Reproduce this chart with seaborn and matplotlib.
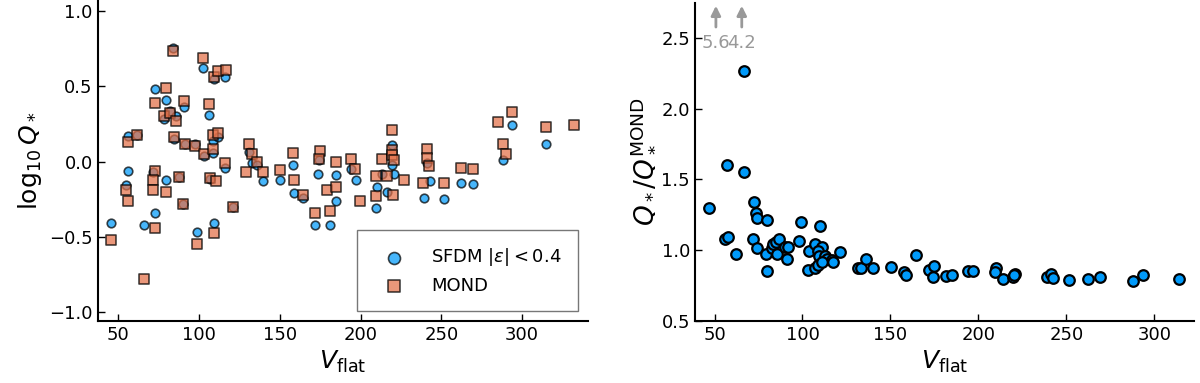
import matplotlib
matplotlib.use("Agg")
import matplotlib.pyplot as plt
import seaborn as sns

# left panel: log10 Q* for SFDM (|eps|<0.4) and MOND fits
v_sfdm = [45.5, 54.8, 56.2, 56.2, 61.3, 65.9, 71.3, 72.7, 72.9, 78.4, 79.3, 79.5,
          82.2, 83.6, 84.7, 85.6, 87.8, 90.2, 90.4, 91.3, 97.5, 98.7, 103.2, 102.6,
          106.2, 106.8, 108.6, 112.0, 108.6, 109.4, 109.5, 116.2, 116.0, 120.8,
          131.1, 132.6, 135.8, 139.6, 149.9, 158.2, 158.8, 164.5, 174.2, 173.8,
          171.8, 181.2, 184.7, 184.7, 194.0, 197.0, 213.5, 210.0, 209.7, 216.2,
          220.9, 219.4, 219.4, 241.2, 242.7, 239.0, 251.7, 262.2, 269.3, 288.3,
          293.6, 314.8]
logq_sfdm = [-0.41, -0.157, -0.06, 0.17, 0.18, -0.42, -0.07, -0.34, 0.48, 0.28, -0.12, 0.41,
             0.335, 0.755, 0.15, 0.30, -0.10, -0.285, 0.36, 0.117, 0.12, -0.47, 0.04, 0.62,
             0.31, -0.115, 0.14, 0.165, 0.06, 0.55, -0.41, 0.56, -0.045, -0.30,
             0.065, -0.012, -0.025, -0.13, -0.12, -0.02, -0.21, -0.24, 0.01, -0.08,
             -0.42, -0.42, -0.09, -0.26, -0.05, -0.12, -0.08, -0.17, -0.31, -0.20,
             -0.08, 0.11, -0.023, -0.01, -0.13, -0.24, -0.25, -0.14, -0.15, 0.008,
             0.24, 0.12]

v_mond = [45.5, 54.8, 56.2, 56.2, 61.3, 65.9, 72.7, 71.3, 71.3, 72.7, 73.0, 78.4,
          79.5, 79.3, 82.2, 83.6, 84.7, 85.6, 87.8, 90.2, 90.4, 91.3, 97.5, 98.7,
          102.6, 103.2, 106.2, 106.8, 108.6, 108.6, 110.5, 109.4, 109.5, 111.9,
          111.9, 116.5, 116.0, 120.8, 129.0, 131.1, 132.6, 135.8, 139.6, 149.9,
          158.2, 158.8, 164.5, 171.8, 174.6, 174.4, 179.0, 181.2, 184.7, 184.7,
          194.0, 196.8, 199.6, 213.5, 209.6, 216.2, 209.6, 220.3, 226.9, 219.4,
          219.4, 219.6, 220.5, 241.0, 241.0, 242.5, 238.8, 251.7, 262.2, 269.3,
          284.9, 293.6, 288.3, 289.8, 314.8, 332.1]
logq_mond = [-0.52, -0.19, 0.13, -0.26, 0.18, -0.78, -0.06, -0.12, -0.19, -0.44, 0.39, 0.30,
             0.49, -0.20, 0.32, 0.735, 0.165, 0.27, -0.10, -0.285, 0.40, 0.115, 0.105, -0.55,
             0.69, 0.05, 0.38, -0.11, 0.177, 0.085, -0.13, 0.565, -0.475, 0.19,
             0.60, 0.61, -0.01, -0.30, -0.07, 0.12, 0.05, 0.0, -0.072, -0.057,
             0.06, -0.12, -0.22, -0.345, 0.07, 0.02, -0.19, -0.33, 0.0, -0.168,
             0.02, -0.05, -0.26, 0.02, -0.097, -0.097, -0.228, -0.22, -0.12, 0.21,
             0.077, 0.043, 0.01, 0.083, 0.025, -0.028, -0.14, -0.14, -0.04, -0.05,
             0.26, 0.33, 0.12, 0.05, 0.23, 0.24]

# right panel: ratio Q*/Q*^MOND
v_ratio = [46.6, 57.0, 66.9, 66.9, 72.2, 73.5, 74.1, 80.0, 99.0, 110.2, 55.7, 57.6,
           62.3, 71.8, 74.1, 79.4, 80.1, 82.9, 83.2, 85.0, 86.4, 85.8, 90.2, 92.0,
           91.3, 98.1, 103.6, 103.4, 107.4, 111.0, 109.1, 109.5, 112.9, 113.9,
           116.7, 117.1, 121.6, 107.2, 109.1, 111.0, 131.8, 133.2, 136.1, 140.0,
           150.4, 158.0, 159.0, 164.5, 172.0, 175.0, 174.1, 181.5, 184.9, 194.4,
           196.9, 209.9, 209.6, 213.9, 219.6, 220.9, 220.4, 238.9, 241.4, 242.7,
           251.8, 262.2, 269.2, 287.8, 293.5, 314.3]
ratio = [1.30, 1.60, 2.27, 1.555, 1.34, 1.26, 1.225, 1.21, 1.20, 1.17, 1.08, 1.09,
         0.975, 1.08, 1.015, 0.97, 0.85, 1.013, 1.043, 1.06, 1.08, 0.97, 1.02, 1.02,
         0.935, 1.065, 0.99, 0.86, 1.045, 1.02, 0.99, 0.96, 0.96, 0.937,
         0.93, 0.914, 0.984, 0.87, 0.894, 0.914, 0.873, 0.873, 0.937, 0.872,
         0.878, 0.848, 0.826, 0.965, 0.861, 0.89, 0.807, 0.814, 0.826, 0.85,
         0.854, 0.871, 0.847, 0.795, 0.807, 0.83, 0.824, 0.807, 0.83, 0.80,
         0.79, 0.795, 0.81, 0.783, 0.826, 0.793]

# points above the plotted range
v_off = [50.8, 65.5]
ratio_off = [5.6, 4.2]

sns.set_style("ticks")
plt.rcParams["font.family"] = ["DejaVu Sans"]
plt.rcParams["mathtext.fontset"] = "dejavusans"
plt.rcParams["xtick.direction"] = "in"
plt.rcParams["ytick.direction"] = "in"
plt.rcParams["text.color"] = "black"
plt.rcParams["axes.labelcolor"] = "black"
plt.rcParams["axes.edgecolor"] = "black"
plt.rcParams["xtick.color"] = "black"
plt.rcParams["ytick.color"] = "black"

blue = "#009AFA"
orange = "#E36F47"

fig = plt.figure(figsize=(12, 3.83), dpi=100)
ax1 = fig.add_axes([0.0814, 0.1627, 0.4086, 0.835])
ax2 = fig.add_axes([0.579, 0.1627, 0.416, 0.8295])

sns.scatterplot(x=v_sfdm, y=logq_sfdm, ax=ax1, marker="o", color=blue, alpha=0.72,
                s=38, edgecolor="black", linewidth=1.2, label=r"SFDM $|\varepsilon| < 0.4$")
sns.scatterplot(x=v_mond, y=logq_mond, ax=ax1, marker="s", color=orange, alpha=0.72,
                s=42, edgecolor="black", linewidth=1.2, label="MOND")
ax1.set_xlim(37.2, 340.8)
ax1.set_ylim(-1.06, 1.07)
ax1.set_xticks([50, 100, 150, 200, 250, 300])
ax1.set_yticks([-1.0, -0.5, 0.0, 0.5, 1.0])
ax1.set_xlabel(r"$V_{\rm flat}$", fontsize=18)
ax1.set_ylabel(r"$\log_{10} Q_*$", fontsize=18)
leg = ax1.legend(loc="lower right", bbox_to_anchor=(0.98, 0.031), borderaxespad=0,
                 fontsize=13, frameon=True, fancybox=False, edgecolor="#555555",
                 borderpad=0.9, handletextpad=1.0, labelspacing=0.45, markerscale=1.4,
                 handlelength=2.2)
leg.get_frame().set_linewidth(1.0)

sns.scatterplot(x=v_ratio, y=ratio, ax=ax2, marker="o", color=blue, s=58,
                edgecolor="black", linewidth=1.6, legend=False)
for v, r in zip(v_off, ratio_off):
    ax2.annotate("", xy=(v, 2.75), xytext=(v, 2.56),
                 arrowprops=dict(arrowstyle="-|>", color="#999999", lw=2, mutation_scale=14))
    ax2.text(v, 2.47, f"{r:.1f}", color="#999999", fontsize=13, ha="center", va="center")
ax2.set_xlim(38.8, 322.6)
ax2.set_ylim(0.5, 2.75)
ax2.set_xticks([50, 100, 150, 200, 250, 300])
ax2.set_yticks([0.5, 1.0, 1.5, 2.0, 2.5])
ax2.set_xlabel(r"$V_{\rm flat}$", fontsize=18)
ax2.set_ylabel(r"$Q_* / Q_*^{\rm MOND}$", fontsize=19)

for ax in (ax1, ax2):
    sns.despine(ax=ax)
    ax.spines["left"].set_linewidth(1.5)
    ax.spines["bottom"].set_linewidth(1.5)
    ax.tick_params(labelsize=13, length=5, width=1, direction="in", colors="black")

plt.savefig("out.png", dpi=100)
